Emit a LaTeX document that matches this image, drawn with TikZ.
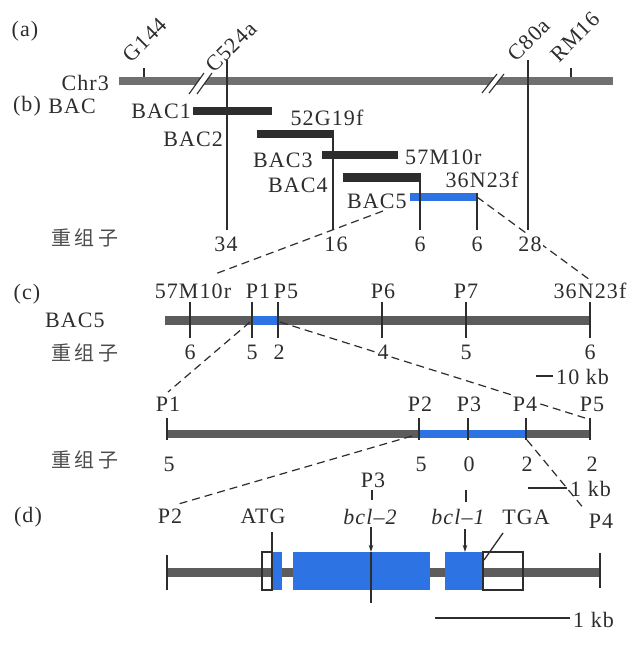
\documentclass[tikz,border=0pt]{standalone}
\usepackage{fontspec}
\setmainfont[LetterSpace=5]{Liberation Serif}
\newfontfamily\cjk[LetterSpace=16]{Noto Sans CJK SC}
\usetikzlibrary{arrows.meta}
\definecolor{ink}{RGB}{45,45,45}
\definecolor{chrg}{RGB}{112,112,112}
\definecolor{bacd}{RGB}{45,45,45}
\definecolor{cg}{RGB}{92,92,92}
\definecolor{blu}{RGB}{45,115,228}
\begin{document}
\begin{tikzpicture}[x=1pt,y=-1pt,
  every node/.style={font=\fontsize{22}{24}\selectfont, text=ink, inner sep=0pt},
  cnt/.style={fill=white, inner sep=1.5pt},
  zh/.style={font=\cjk\fontsize{20}{22}\selectfont, text=ink!85},
  tk/.style={line width=1.3pt, draw=ink},
  dsh/.style={line width=1.2pt, draw=ink, dash pattern=on 8pt off 5pt},
  brk/.style={line width=1.1pt, draw=ink},
  arr/.style={line width=1.2pt, draw=ink, -{Stealth[length=7pt,width=4.5pt]}},
]
\useasboundingbox[fill=white] (0,0) rectangle (637,645);

% ---------------- (a) ----------------
\node (la) at (25,31) {(a)};
\fill[chrg] (119,77) rectangle (613,85);
\node[anchor=east] (chr) at (109,83) {Chr3};
\coordinate (g144t) at (144,68);
\coordinate (g144b) at (144,77);
\draw[tk] (g144t) -- (g144b);
\coordinate (rm16t) at (571,68);
\coordinate (rm16b) at (571,77);
\draw[tk] (rm16t) -- (rm16b);
\node[rotate=45] (ng144) at (145,40) {G144};
\node[rotate=45] (nc524) at (231,47) {C524a};
\node[rotate=45] (nc80) at (529,40) {C80a};
\node[rotate=45] (nrm16) at (575,37) {RM16};
% breaks
\fill[white] (189,94) -- (197,94) -- (212,73) -- (204,73) -- cycle;
\draw[brk] (189,94) -- (204,73);
\draw[brk] (197,94) -- (212,73);
\fill[white] (482,93) -- (489,93) -- (504,74) -- (497,74) -- cycle;
\draw[brk] (482,93) -- (497,74);
\draw[brk] (489,93) -- (504,74);

% ---------------- (b) ----------------
\node (lb) at (27,106) {(b)};
\node (lbac) at (72,106) {BAC};
\fill[bacd] (193,107) rectangle (272,115);
\node[anchor=east] (b1) at (191,111) {BAC1};
\fill[bacd] (257,130) rectangle (333,138);
\node[anchor=east] (b2) at (223,139) {BAC2};
\node (m52) at (327,118) {52G19f};
\fill[bacd] (322,151) rectangle (398,159);
\node (b3) at (283,160) {BAC3};
\node[anchor=west] (m57) at (405,157) {57M10r};
\fill[bacd] (343,173) rectangle (420,182);
\node (b4) at (298,185) {BAC4};
\node (m36) at (482,180) {36N23f};
\fill[blu] (410,193) rectangle (477,201);
\node (b5) at (377,201) {BAC5};

% dashed connectors (b)->(c)
\coordinate (d1a) at (383,211);
\coordinate (d1b) at (215,274);
\draw[dsh] (d1a) -- (d1b);
\coordinate (d2a) at (477,197);
\coordinate (d2b) at (590,280);
\draw[dsh] (d2a) -- (d2b);

\node[zh] (zh1) at (85,238) {重组子};
\node[cnt] (n34) at (226,244) {34};
\node[cnt] (n16) at (336,244) {16};
\node[cnt] (n6a) at (420,244) {6};
\node[cnt] (n6b) at (477,244) {6};
\node[cnt] (n28) at (530,244) {28};
\coordinate (c524t) at (227,60);
\coordinate (c80t) at (528,60);
\draw[tk] (c524t) -- (227,230);
\draw[tk] (c80t) -- (528,230);
\draw[tk] (333,130) -- (333,230);
\draw[tk] (420,173) -- (420,230);
\draw[tk] (477,193) -- (477,230);

% ---------------- (c) ----------------
\node (lc) at (27,294) {(c)};
\node (cb5) at (75,320) {BAC5};
\node[zh] (zh2) at (85,353) {重组子};
\fill[cg] (165,315.5) rectangle (590,324.5);
\fill[blu] (252,315.5) rectangle (278,324.5);
\coordinate (d3a) at (250,322);
\coordinate (d3b) at (168,392);
\draw[dsh] (d3a) -- (d3b);
\coordinate (d4a) at (280,322);
\coordinate (d4b) at (585,418);
\draw[dsh] (d4a) -- (d4b);
\foreach \x in {190,252,278,382,466,590} \draw[tk] (\x,302) -- (\x,338);
\node (c57) at (193,291) {57M10r};
\node (cp1) at (258,291) {P1};
\node (cp5) at (286,291) {P5};
\node (cp6) at (383,291) {P6};
\node (cp7) at (466,291) {P7};
\node (c36) at (590,291) {36N23f};
\node[cnt] (cn1) at (190,352) {6};
\node[cnt] (cn2) at (252,352) {5};
\node[cnt] (cn3) at (279,352) {2};
\node[cnt] (cn4) at (383,352) {4};
\node[cnt] (cn5) at (466,352) {5};
\node[cnt] (cn6) at (590,352) {6};
\coordinate (s10a) at (536,376);
\coordinate (s10b) at (553,376);
\draw[tk] (s10a) -- (s10b);
\node[anchor=west] (s10) at (556,377) {10 kb};

% ---------------- fine map ----------------
\fill[cg] (167,430) rectangle (590,438);
\fill[blu] (420,430) rectangle (526,438);
\coordinate (d5a) at (412,436);
\coordinate (d5b) at (175,505);
\draw[dsh] (d5a) -- (d5b);
\coordinate (d6a) at (527,440);
\coordinate (d6b) at (585,510);
\draw[dsh] (d6a) -- (d6b);
\foreach \x in {167,419,468,526,590} \draw[tk] (\x,418) -- (\x,440);
\node (fp1) at (168,404) {P1};
\node (fp2) at (420,404) {P2};
\node (fp3) at (469,404) {P3};
\node[cnt] (fp4) at (525,404) {P4};
\node (fp5) at (592,404) {P5};
\node[zh] (zh3) at (85,460) {重组子};
\node (fn1) at (169,464) {5};
\node (fn2) at (421,464) {5};
\node (fn3) at (469,464) {0};
\node (fn4) at (527,464) {2};
\node (fn5) at (592,464) {2};
\coordinate (s1a) at (528,488);
\coordinate (s1b) at (567,488);
\draw[tk] (s1a) -- (s1b);
\node[anchor=west] (s1) at (570,489) {1 kb};

% ---------------- (d) ----------------
\node (ld) at (28,517) {(d)};
\node (dp2) at (170,516) {P2};
\node (datg) at (263,516) {ATG};
\node (dp3) at (373,480) {P3};
\node (dbcl2) at (370,517) {\itshape bcl–2};
\node (dbcl1) at (458,517) {\itshape bcl–1};
\node (dtga) at (526,517) {TGA};
\node (dp4) at (601,521) {P4};
\draw[tk] (372,490) -- (372,500);
\draw[tk] (466,490) -- (466,502);
\fill[cg] (167,568) rectangle (600,577);
\draw[tk] (167,555) -- (167,590);
\draw[tk] (600,553) -- (600,588);
\fill[blu] (272,552) rectangle (282,590);
\fill[blu] (293,552) rectangle (430,590);
\fill[blu] (445,552) rectangle (483,590);
\draw[line width=1.1pt, draw=ink] (262,552) rectangle (272,590);
\draw[line width=1.1pt, draw=ink] (483,552) rectangle (523,590);
\draw[tk] (272,532) -- (272,590);
\coordinate (a2t) at (371,527);
\coordinate (a2b) at (371,552);
\draw[arr] (a2t) -- (a2b);
\draw[tk] (a2b) -- (371,603);
\coordinate (a1t) at (465,529);
\coordinate (a1b) at (465,552);
\draw[arr] (a1t) -- (a1b);
\coordinate (tgat) at (503,533);
\coordinate (tgab) at (484,560);
\draw[tk] (tgat) -- (tgab);
\coordinate (sda) at (435,618);
\coordinate (sdb) at (570,618);
\draw[tk] (sda) -- (sdb);
\node[anchor=west] (sd) at (573,620) {1 kb};
\end{tikzpicture}
\end{document}
